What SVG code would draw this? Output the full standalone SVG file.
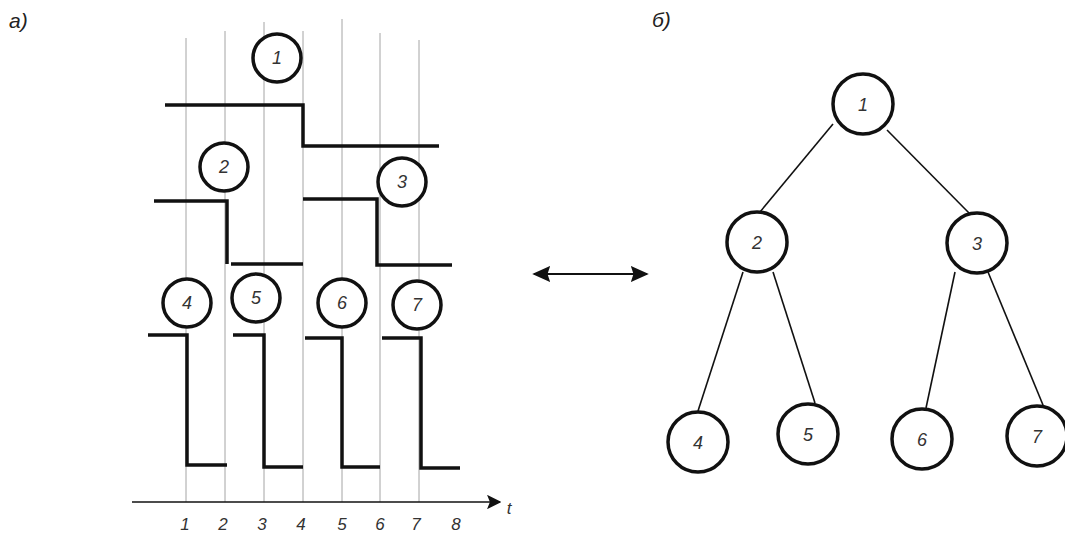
<svg xmlns="http://www.w3.org/2000/svg" width="1065" height="536" viewBox="0 0 1065 536">
<style>
.grid{stroke:#9a9a9a;stroke-width:0.9;fill:none}
.sig{stroke:#111;stroke-width:3.5;fill:none;stroke-linejoin:miter}
.node{fill:#fff;stroke:#111;stroke-width:3.5}
.edge{stroke:#111;stroke-width:1.6;fill:none}
.lbl{font-family:"Liberation Sans",Arial,sans-serif;font-style:italic;fill:#333;text-anchor:middle}
.n{font-size:18px}
.tn{font-size:18px}
.tick{font-size:17px}
.cap{font-family:"Liberation Sans",Arial,sans-serif;font-style:italic;font-size:21px;fill:#222}
</style>
<defs>
<marker id="ah2" viewBox="0 0 10 10" refX="9" refY="5" markerWidth="9" markerHeight="9" orient="auto-start-reverse" markerUnits="strokeWidth">
<path d="M0,0 L10,5 L0,10 L2,5 Z" fill="#111"/>
</marker>
<marker id="ah3" viewBox="0 0 10 10" refX="9" refY="5" markerWidth="10" markerHeight="10" orient="auto-start-reverse" markerUnits="strokeWidth">
<path d="M0,0.5 L10,5 L0,9.5 L1.5,5 Z" fill="#111"/>
</marker>
</defs>
<text class="cap" x="9" y="28">a)</text>
<text class="cap" x="652" y="27">б)</text>
<g id="grid">
<line class="grid" x1="186" y1="38" x2="186" y2="502"/>
<line class="grid" x1="225" y1="31" x2="225" y2="502"/>
<line class="grid" x1="264" y1="22" x2="264" y2="502"/>
<line class="grid" x1="303" y1="31" x2="303" y2="502"/>
<line class="grid" x1="342" y1="19" x2="342" y2="502"/>
<line class="grid" x1="380" y1="33" x2="380" y2="502"/>
<line class="grid" x1="419" y1="40" x2="419" y2="502"/>
</g>
<g id="axis">
<line x1="132" y1="502" x2="500" y2="502" stroke="#111" stroke-width="1.6" marker-end="url(#ah2)"/>
<text class="lbl tick" x="509" y="514">t</text>
<text class="lbl tick" x="185" y="530">1</text>
<text class="lbl tick" x="223" y="530">2</text>
<text class="lbl tick" x="262" y="530">3</text>
<text class="lbl tick" x="301" y="530">4</text>
<text class="lbl tick" x="342" y="530">5</text>
<text class="lbl tick" x="380" y="530">6</text>
<text class="lbl tick" x="416" y="530">7</text>
<text class="lbl tick" x="456" y="530">8</text>
</g>
<g id="signals">
<path class="sig" d="M165,105 H303 V146 H439"/>
<path class="sig" d="M154,201 H227 V264"/>
<path class="sig" d="M231,264 H303"/>
<path class="sig" d="M303,199 H377 V265 H452"/>
<path class="sig" d="M148,335 H187 V465 H227"/>
<path class="sig" d="M233,335 H264 V467 H303"/>
<path class="sig" d="M305,338 H342 V467 H380"/>
<path class="sig" d="M382,338 H421 V468 H460"/>
</g>
<g id="a1"><circle class="node" cx="277" cy="58" r="24"/><text class="lbl n" x="277" y="64">1</text></g>
<g id="a2"><circle class="node" cx="224" cy="167" r="24"/><text class="lbl n" x="224" y="173">2</text></g>
<g id="a3"><circle class="node" cx="402" cy="182" r="24"/><text class="lbl n" x="402" y="188">3</text></g>
<g id="a4"><circle class="node" cx="187" cy="303" r="24"/><text class="lbl n" x="187" y="309">4</text></g>
<g id="a5"><circle class="node" cx="256" cy="298" r="24"/><text class="lbl n" x="256" y="304">5</text></g>
<g id="a6"><circle class="node" cx="342" cy="303" r="24"/><text class="lbl n" x="342" y="309">6</text></g>
<g id="a7"><circle class="node" cx="417" cy="305" r="24"/><text class="lbl n" x="417" y="311">7</text></g>
<g id="connectors">
<line x1="534" y1="274" x2="647" y2="274" stroke="#111" stroke-width="1.8" marker-start="url(#ah3)" marker-end="url(#ah3)"/>
<line class="edge" x1="833" y1="124" x2="760" y2="212"/>
<line class="edge" x1="887" y1="130" x2="970" y2="214"/>
<line class="edge" x1="743" y1="272" x2="698" y2="411"/>
<line class="edge" x1="773" y1="272" x2="815" y2="403"/>
<line class="edge" x1="955" y1="272" x2="926" y2="408"/>
<line class="edge" x1="988" y1="272" x2="1043" y2="405"/>
</g>
<g id="t1"><circle class="node" cx="863" cy="104" r="30"/><text class="lbl tn" x="863" y="111">1</text></g>
<g id="t2"><circle class="node" cx="757" cy="242" r="30"/><text class="lbl tn" x="757" y="249">2</text></g>
<g id="t3"><circle class="node" cx="977" cy="243" r="30"/><text class="lbl tn" x="977" y="250">3</text></g>
<g id="t4"><circle class="node" cx="698" cy="442" r="30"/><text class="lbl tn" x="698" y="449">4</text></g>
<g id="t5"><circle class="node" cx="808" cy="434" r="30"/><text class="lbl tn" x="808" y="441">5</text></g>
<g id="t6"><circle class="node" cx="922" cy="439" r="30"/><text class="lbl tn" x="922" y="446">6</text></g>
<g id="t7"><circle class="node" cx="1037" cy="436" r="30"/><text class="lbl tn" x="1037" y="443">7</text></g>
</svg>
